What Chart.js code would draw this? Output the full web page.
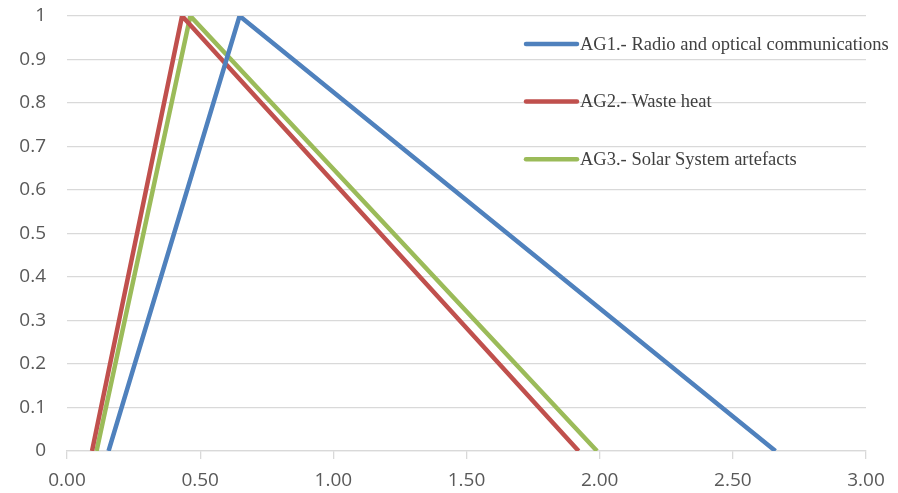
<!DOCTYPE html>
<html>
<head>
<meta charset="utf-8">
<script src="https://cdn.jsdelivr.net/npm/chart.js@4/dist/chart.umd.min.js"></script>
<style>
  html, body { margin: 0; padding: 0; background: #fff; }
  #wrap { width: 898px; height: 493px; }
</style>
</head>
<body>
<div id="wrap"><canvas id="chart" width="898" height="493"></canvas></div>
<script>
// series: x at foot, x at peak, x at foot
const labels = [
  "AG1.- Radio and optical communications",
  "AG2.- Waste heat",
  "AG3.- Solar System artefacts"
];
const ag1X = [0.156, 0.648, 2.66];
const ag2X = [0.094, 0.432, 1.921];
const ag3X = [0.111, 0.463, 1.99];
const peakY = [0, 1, 0];
const colors = ["#4f81bd", "#c0504d", "#9bbb59"];

const xTicks = [0, 0.5, 1, 1.5, 2, 2.5, 3];

function toPoints(xs) {
  return xs.map((x, i) => ({ x: x, y: peakY[i] }));
}

// legend sits inside the plot, drawn by hand
const sideLegend = {
  id: "sideLegend",
  afterDatasetsDraw(chart) {
    const ctx = chart.ctx;
    const area = chart.chartArea;
    ctx.save();
    chart.data.datasets.forEach((ds, i) => {
      const y = area.top + 28 + i * 57.6;
      const x0 = area.left + 459;
      ctx.strokeStyle = ds.borderColor;
      ctx.lineWidth = 4.5;
      ctx.lineCap = "round";
      ctx.beginPath();
      ctx.moveTo(x0, y);
      ctx.lineTo(x0 + 51, y);
      ctx.stroke();
      ctx.fillStyle = "#404040";
      ctx.font = "18.5px 'Liberation Serif', serif";
      ctx.textBaseline = "middle";
      ctx.fillText(ds.label, x0 + 54, y + 1);
    });
    ctx.restore();
  }
};

new Chart(document.getElementById("chart"), {
  type: "scatter",
  data: {
    datasets: [ag1X, ag2X, ag3X].map((xs, i) => ({
      label: labels[i],
      data: toPoints(xs),
      showLine: true,
      borderColor: colors[i],
      backgroundColor: colors[i],
      borderWidth: 4.5,
      pointRadius: 0,
      tension: 0
    }))
  },
  options: {
    responsive: false,
    animation: false,
    layout: { padding: { top: 16, right: 32, left: 0, bottom: 0 } },
    plugins: { legend: { display: false }, tooltip: { enabled: false } },
    scales: {
      x: {
        type: "linear",
        min: 0,
        max: 3,
        afterBuildTicks: (axis) => { axis.ticks = xTicks.map((v) => ({ value: v })); },
        afterFit: (axis) => {
          axis.height = 42;
          axis.paddingLeft = 0;
          axis.paddingRight = 0;
        },
        grid: { drawOnChartArea: false, drawTicks: true, tickLength: 8, color: "#d9d9d9", lineWidth: 1.3 },
        border: { display: true, color: "#d9d9d9", width: 1.3 },
        ticks: {
          color: "#595959",
          font: { family: "'Open Sans', sans-serif", size: 19 },
          padding: 10,
          maxRotation: 0,
          callback: (v) => Number(v).toFixed(2)
        }
      },
      y: {
        min: 0,
        max: 1,
        afterFit: (axis) => {
          axis.width = 67;
          axis.paddingTop = 0;
          axis.paddingBottom = 0;
        },
        grid: { drawTicks: false, color: "#d9d9d9", lineWidth: 1.3 },
        border: { display: false },
        ticks: {
          stepSize: 0.1,
          color: "#595959",
          font: { family: "'Open Sans', sans-serif", size: 19 },
          padding: 21,
          callback: (v) => String(+Number(v).toFixed(1))
        }
      }
    }
  },
  plugins: [sideLegend]
});
</script>
</body>
</html>
